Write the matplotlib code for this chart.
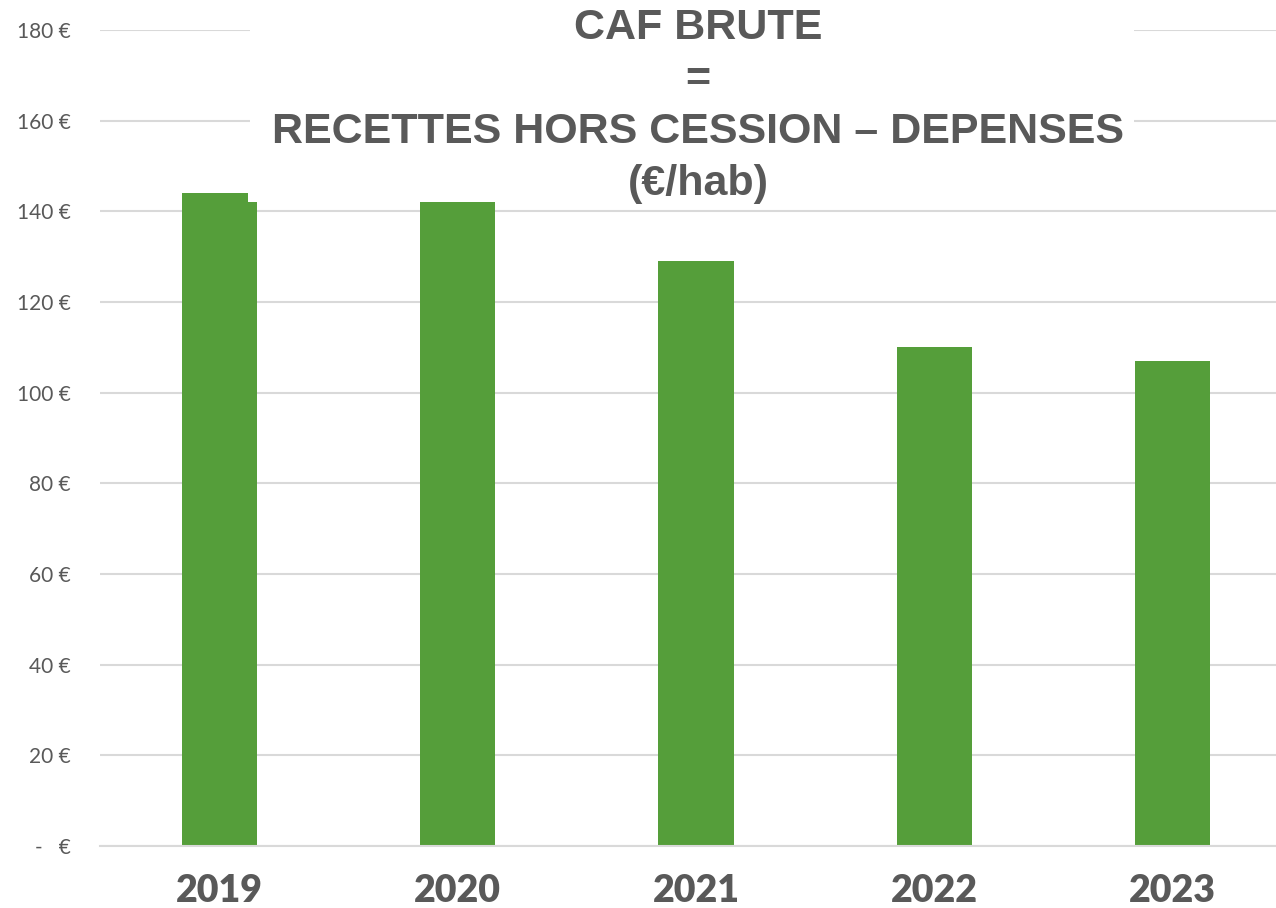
import matplotlib
matplotlib.use("Agg")
import matplotlib.pyplot as plt
from matplotlib.patches import Rectangle

years = ["2019", "2020", "2021", "2022", "2023"]
caf_brute = [142, 142, 129, 110, 107]
# earlier 2019 value drawn partly over the first bar in the reference
overlay_2019 = [144]
ytick_values = [0, 20, 40, 60, 80, 100, 120, 140, 160, 180]
ytick_labels = ["-   €", "20 €", "40 €", "60 €", "80 €", "100 €", "120 €", "140 €", "160 €", "180 €"]

title_font = "Liberation Sans"
tick_font = "Lato"

GREEN = "#559E3A"
TEXT = "#595959"
GRID = "#D9D9D9"

fig = plt.figure(figsize=(12.76, 9.08), dpi=100)
ax = fig.add_axes([100/1276, 62/908, 1192/1276, 816/908])

x = list(range(len(years)))
width = 0.315
ax.bar(x, caf_brute, width=width, color=GREEN, zorder=2)
ax.bar([x[0] - width / 2], overlay_2019, width=width * 0.89, align="edge", color=GREEN, zorder=2)

ax.set_xlim(-0.5, 4.5)
ax.set_ylim(0, 180)
ax.set_yticks(ytick_values)
ax.set_yticklabels(ytick_labels, fontfamily=tick_font, fontsize=15, color=TEXT)
ax.set_xticks(x)
ax.set_xticklabels(years, fontfamily=tick_font, fontsize=27, fontweight="heavy", color=TEXT)
ax.tick_params(axis="y", length=0, pad=21)
ax.tick_params(axis="x", length=0, pad=20)
ax.yaxis.grid(True, color=GRID, linewidth=1.5, zorder=0)
ax.set_axisbelow(True)
for s in ax.spines.values():
    s.set_visible(False)
ax.spines["bottom"].set_visible(True)
ax.spines["bottom"].set_color(GRID)
ax.spines["bottom"].set_linewidth(1.5)
ax.spines["bottom"].set_zorder(3)

# white panel behind the title, hiding the upper gridlines
fig.patches.append(Rectangle((250/1276, 1 - 200/908), 884/1276, 190/908,
                             transform=fig.transFigure, facecolor="white",
                             edgecolor="none", zorder=5))
fig.text(698/1276, 1 - 106/908,
         "CAF BRUTE\n=\nRECETTES HORS CESSION – DEPENSES\n(€/hab)",
         ha="center", va="center", fontsize=31, fontweight="bold",
         fontfamily=title_font, color=TEXT, linespacing=1.38, zorder=10)

fig.savefig("out.png", dpi=100)
